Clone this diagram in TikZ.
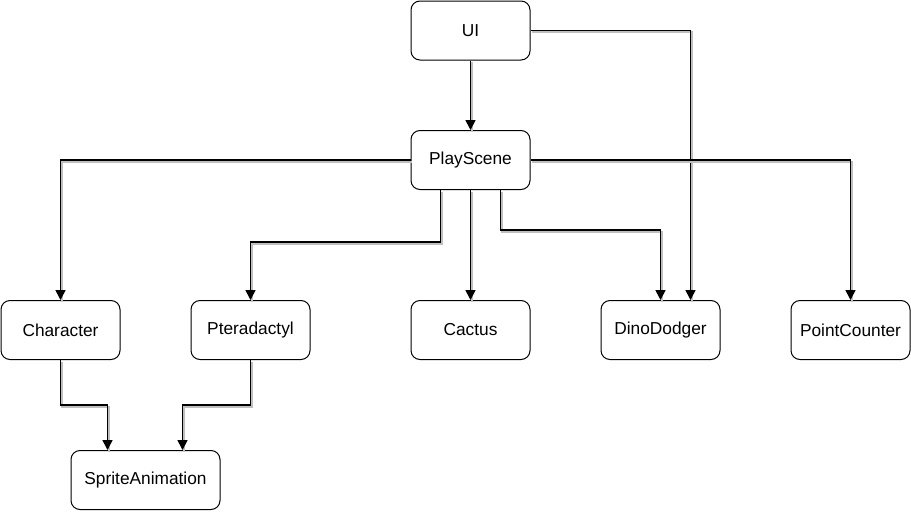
\documentclass[tikz,border=0pt]{standalone}
\usepackage{fontspec}
\setmainfont{Liberation Sans}
\usepackage{tikz}
\usetikzlibrary{arrows.meta, positioning, calc}

\begin{document}
\begin{tikzpicture}[
            x=1pt, y=-1pt,
            cls/.style={rectangle, rounded corners=9pt, draw=black, line width=1pt, fill=white, minimum width=119pt, minimum height=59pt, align=center, font=\fontsize{17.3}{20}\selectfont},
            link/.style={line width=1.7pt, -{Triangle[length=10pt,width=10pt]}, rounded corners=0pt,
                preaction={draw=black!25, line width=1.7pt, -, transform canvas={shift={(1.8,1.8)}}}}
        ]
            \useasboundingbox (0,0) rectangle (911,512);

% Top level
            \node[cls] (ui) at (470.5,30.5) {UI};
            \node[cls] (play) at (470.5,160) {PlayScene};

% Game objects
            \node[cls] (char) at (60.5,330) {Character};
            \node[cls] (ptera) at (250.5,330) {Pteradactyl};
            \node[cls] (cactus) at (470.5,330) {Cactus};
            \node[cls] (dino) at (660.5,330) {DinoDodger};
            \node[cls] (points) at (850.5,330) {PointCounter};

% Animation
            \node[cls, minimum width=149pt] (sprite) at (145.5,480) {SpriteAnimation};

% Arrows
            \draw[link] (ui.south) -- (play.north);
            \draw[link] (ui.east) -| ([xshift=30pt]dino.north);
            \draw[link] (play.west) -| (char.north);
            \draw[link] (play.east) -| (points.north);
            \draw[link] ([xshift=-30pt]play.south) -- ++(0,52) -| (ptera.north);
            \draw[link] (play.south) -- (cactus.north);
            \draw[link] ([xshift=30pt]play.south) -- ++(0,40) -| (dino.north);
            \draw[link] (char.south) -- ++(0,45) -| ([xshift=-38pt]sprite.north);
            \draw[link] (ptera.south) -- ++(0,45) -| ([xshift=37pt]sprite.north);

        \end{tikzpicture}
\end{document}
